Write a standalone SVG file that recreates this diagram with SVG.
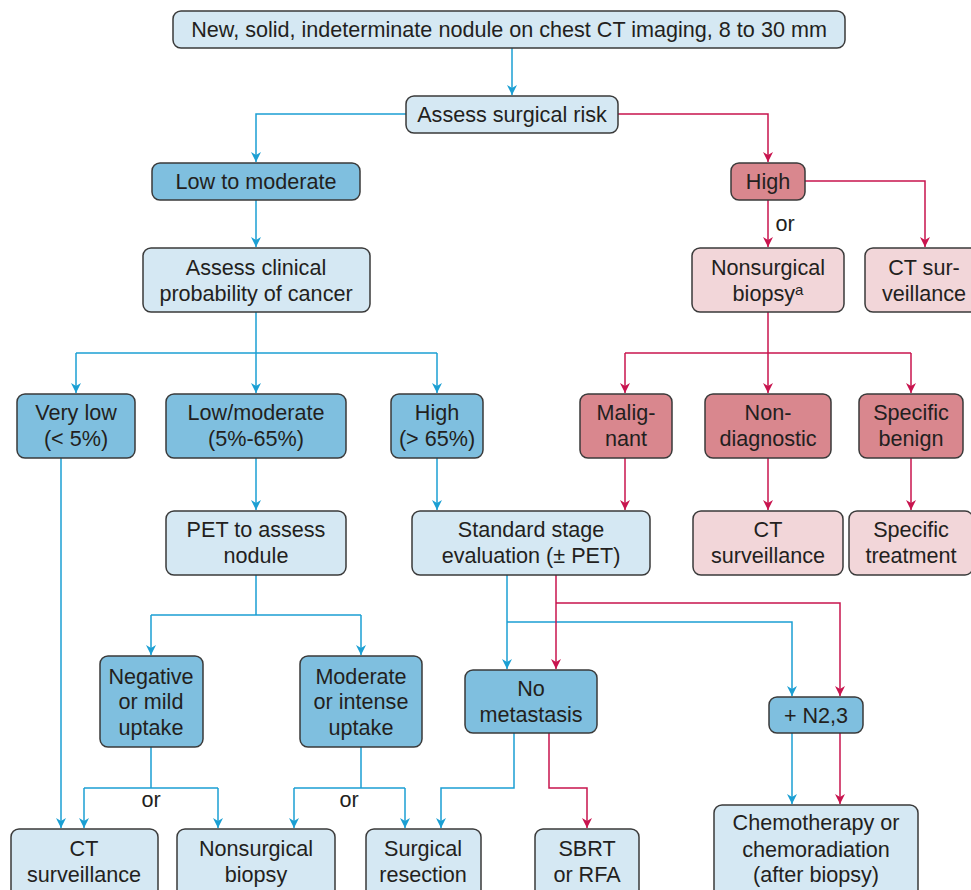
<svg xmlns="http://www.w3.org/2000/svg" width="971" height="890" viewBox="0 0 971 890">
<defs>
<marker id="ab" viewBox="0 0 10 10" refX="10" refY="5" markerWidth="10" markerHeight="10" orient="auto" markerUnits="userSpaceOnUse"><path d="M0,0 L10,5 L0,10 L3,5 z" fill="#1b9fd3"/></marker>
<marker id="ar" viewBox="0 0 10 10" refX="10" refY="5" markerWidth="10" markerHeight="10" orient="auto" markerUnits="userSpaceOnUse"><path d="M0,0 L10,5 L0,10 L3,5 z" fill="#c8144e"/></marker>
<style>
rect{stroke:#3a3a3a;stroke-width:1.5}
.l{fill:#d5e8f3}
.m{fill:#7fbfdf}
.r{fill:#d9878e}
.p{fill:#f2d6d9}
text{font-family:"Liberation Sans",Arial,sans-serif;font-size:21.6px;fill:#231f20;text-anchor:middle}
.cb{fill:none;stroke:#1b9fd3;stroke-width:1.5}
.cr{fill:none;stroke:#c8144e;stroke-width:1.5}
.ab{marker-end:url(#ab)}
.ar{marker-end:url(#ar)}
</style>
</defs>
<g id="connectors">
<g class="cb">
<path class="ab" d="M512,48 V95"/>
<path class="ab" d="M406,114 H256 V162"/>
<path class="ab" d="M256,200 V247"/>
<path class="ab" d="M256,312 V393"/>
<path d="M76,353 H437"/>
<path class="ab" d="M76,353 V393"/>
<path class="ab" d="M437,353 V393"/>
<path class="ab" d="M61,458 V828"/>
<path class="ab" d="M256,458 V510"/>
<path class="ab" d="M437,458 V510"/>
<path d="M256,575 V615 M151,615 H361"/>
<path class="ab" d="M151,615 V655"/>
<path class="ab" d="M361,615 V655"/>
<path d="M151,747 V788 M84,788 H218"/>
<path class="ab" d="M84,788 V828"/>
<path class="ab" d="M218,788 V828"/>
<path d="M361,747 V788 M294,788 H405"/>
<path class="ab" d="M294,788 V828"/>
<path class="ab" d="M405,788 V828"/>
<path class="ab" d="M507,575 V669"/>
<path class="ab" d="M507,622 H792 V696"/>
<path class="ab" d="M514,733 V788 H441 V828"/>
<path class="ab" d="M792,733 V804"/>
</g>
<g class="cr">
<path class="ar" d="M618,114 H768 V162"/>
<path class="ar" d="M768,200 V247"/>
<path class="ar" d="M805,181 H925 V247"/>
<path class="ar" d="M768,312 V393"/>
<path d="M625,353 H911"/>
<path class="ar" d="M625,353 V393"/>
<path class="ar" d="M911,353 V393"/>
<path class="ar" d="M625,458 V510"/>
<path class="ar" d="M768,458 V510"/>
<path class="ar" d="M911,458 V510"/>
<path class="ar" d="M556,575 V669"/>
<path class="ar" d="M556,603 H840 V696"/>
<path class="ar" d="M549,733 V788 H587 V828"/>
<path class="ar" d="M840,733 V804"/>
</g>
<text x="785" y="231">or</text>
<text x="151" y="807">or</text>
<text x="349" y="807">or</text>
</g>
<g id="n-top"><rect class="l" x="173" y="11" width="672" height="37" rx="8"/><text x="509" y="37">New, solid, indeterminate nodule on chest CT imaging, 8 to 30 mm</text></g>
<g id="n-surgrisk"><rect class="l" x="406" y="96" width="212" height="37" rx="8"/><text x="512" y="122">Assess surgical risk</text></g>
<g id="n-lowmod"><rect class="m" x="152" y="163" width="208" height="37" rx="8"/><text x="256" y="189">Low to moderate</text></g>
<g id="n-high"><rect class="r" x="731" y="163" width="74" height="37" rx="8"/><text x="768" y="189">High</text></g>
<g id="n-assessclin"><rect class="l" x="143" y="248" width="227" height="64" rx="8"/><text x="256" y="275">Assess clinical</text><text x="256" y="301">probability of cancer</text></g>
<g id="n-nsbiopsy1"><rect class="p" x="692" y="248" width="152" height="64" rx="8"/><text x="768" y="275">Nonsurgical</text><text x="768" y="301">biopsy<tspan font-size="15" dy="-6">a</tspan></text></g>
<g id="n-ctsurv1"><rect class="p" x="865" y="248" width="118" height="64" rx="8"/><text x="924" y="275">CT sur-</text><text x="924" y="301">veillance</text></g>
<g id="n-verylow"><rect class="m" x="17" y="394" width="118" height="64" rx="8"/><text x="76" y="420">Very low</text><text x="76" y="446">(&lt; 5%)</text></g>
<g id="n-lowmod2"><rect class="m" x="166" y="394" width="180" height="64" rx="8"/><text x="256" y="420">Low/moderate</text><text x="256" y="446">(5%-65%)</text></g>
<g id="n-high2"><rect class="m" x="391" y="394" width="92" height="64" rx="8"/><text x="437" y="420">High</text><text x="437" y="446">(&gt; 65%)</text></g>
<g id="n-malignant"><rect class="r" x="580" y="394" width="92" height="64" rx="8"/><text x="626" y="420">Malig-</text><text x="626" y="446">nant</text></g>
<g id="n-nondiag"><rect class="r" x="705" y="394" width="126" height="64" rx="8"/><text x="768" y="420">Non-</text><text x="768" y="446">diagnostic</text></g>
<g id="n-specben"><rect class="r" x="859" y="394" width="104" height="64" rx="8"/><text x="911" y="420">Specific</text><text x="911" y="446">benign</text></g>
<g id="n-pet"><rect class="l" x="166" y="511" width="180" height="64" rx="8"/><text x="256" y="537">PET to assess</text><text x="256" y="563">nodule</text></g>
<g id="n-std"><rect class="l" x="412" y="511" width="238" height="64" rx="8"/><text x="531" y="537">Standard stage</text><text x="531" y="563">evaluation (± PET)</text></g>
<g id="n-ctsurv2"><rect class="p" x="693" y="511" width="150" height="64" rx="8"/><text x="768" y="537">CT</text><text x="768" y="563">surveillance</text></g>
<g id="n-spectreat"><rect class="p" x="849" y="511" width="124" height="64" rx="8"/><text x="911" y="537">Specific</text><text x="911" y="563">treatment</text></g>
<g id="n-neg"><rect class="m" x="100" y="656" width="103" height="91" rx="8"/><text x="151" y="684">Negative</text><text x="151" y="709">or mild</text><text x="151" y="735">uptake</text></g>
<g id="n-modint"><rect class="m" x="300" y="656" width="122" height="91" rx="8"/><text x="361" y="684">Moderate</text><text x="361" y="709">or intense</text><text x="361" y="735">uptake</text></g>
<g id="n-nomet"><rect class="m" x="465" y="670" width="132" height="63" rx="8"/><text x="531" y="696">No</text><text x="531" y="722">metastasis</text></g>
<g id="n-n23"><rect class="m" x="769" y="697" width="94" height="36" rx="8"/><text x="816" y="723">+ N2,3</text></g>
<g id="n-ctsurv3"><rect class="l" x="11" y="829" width="147" height="70" rx="8"/><text x="84" y="856">CT</text><text x="84" y="882">surveillance</text></g>
<g id="n-nsbiopsy2"><rect class="l" x="177" y="829" width="158" height="70" rx="8"/><text x="256" y="856">Nonsurgical</text><text x="256" y="882">biopsy</text></g>
<g id="n-surgres"><rect class="l" x="366" y="829" width="115" height="70" rx="8"/><text x="423" y="856">Surgical</text><text x="423" y="882">resection</text></g>
<g id="n-sbrt"><rect class="l" x="535" y="829" width="104" height="70" rx="8"/><text x="587" y="856">SBRT</text><text x="587" y="882">or RFA</text></g>
<g id="n-chemo"><rect class="l" x="714" y="805" width="204" height="95" rx="8"/><text x="816" y="830">Chemotherapy or</text><text x="816" y="857">chemoradiation</text><text x="816" y="882">(after biopsy)</text></g>
</svg>
